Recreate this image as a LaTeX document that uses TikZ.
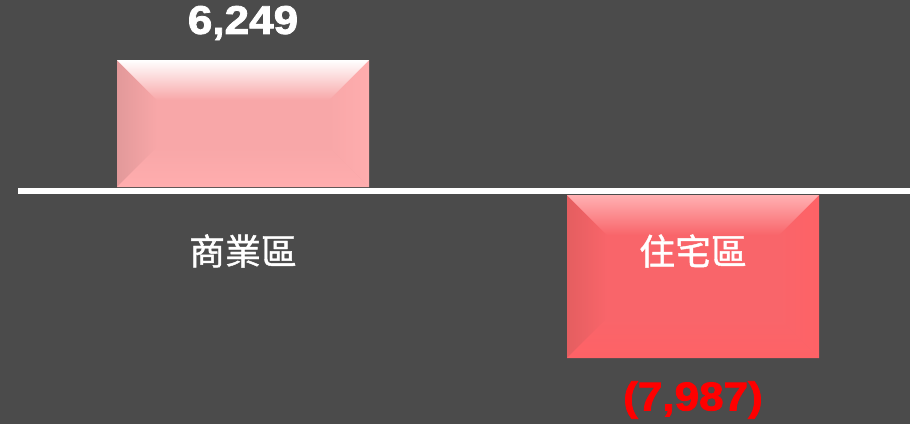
\documentclass[tikz,border=0pt]{standalone}
\usepackage{fontspec}
\newfontfamily\numfont[FakeStretch=1.1,FakeBold=2]{Liberation Sans Bold}
\newfontfamily\cjk[FakeBold=1.2]{Noto Sans CJK TC}
\definecolor{bggray}{HTML}{4B4B4B}
\definecolor{pink5}{HTML}{F8A7A8}
\definecolor{pink7}{HTML}{E2999A}
\definecolor{pink3}{HTML}{FFADAE}
\definecolor{red5}{HTML}{F9656A}
\definecolor{red7}{HTML}{E45E60}
\definecolor{red3}{HTML}{FF6266}
\tikzset{
  numlbl/.style={font=\numfont\fontsize{22.8}{22.8}\selectfont, inner sep=0pt},
  cjklbl/.style={font=\cjk\fontsize{20.4}{20.4}\selectfont, white, inner sep=0pt}
}
\begin{document}
\begin{tikzpicture}[x=0.02cm,y=-0.02cm]
\fill [bggray] (0,0) rectangle (910,424);
\useasboundingbox (0,0) rectangle (910,424);
\fill [pink5] (117,60) rectangle (369,187);
\shade [left color=pink7, right color=pink5] (117,60) -- (157,100) -- (157,147) -- (117,187) -- cycle;
\shade [left color=pink5, right color=pink3] (369,60) -- (329,100) -- (329,147) -- (369,187) -- cycle;
\shade [top color=pink5, bottom color=pink3] (117,187) -- (157,147) -- (329,147) -- (369,187) -- cycle;
\shade [top color=white, bottom color=pink5] (117,60) -- (369,60) -- (329,100) -- (157,100) -- cycle;
\draw [white, line width=0.12cm] (18,191) -- (910,191);
\fill [red5] (567,195) rectangle (819,358);
\shade [left color=red7, right color=red5] (567,195) -- (607,235) -- (607,318) -- (567,358) -- cycle;
\shade [left color=red5, right color=red3] (819,195) -- (779,235) -- (779,318) -- (819,358) -- cycle;
\shade [top color=red5, bottom color=red3] (567,358) -- (607,318) -- (779,318) -- (819,358) -- cycle;
\shade [top color=red3!50!white, bottom color=red5] (567,195) -- (819,195) -- (779,235) -- (607,235) -- cycle;
\node [numlbl, white] (val1) at (243,23) {6,249};
\node [cjklbl] (cat1) at (243,251) {商業區};
\node [cjklbl] (cat2) at (693,251) {住宅區};
\node [numlbl, red] (val2) at (693,400) {(7,987)};
\end{tikzpicture}
\end{document}
